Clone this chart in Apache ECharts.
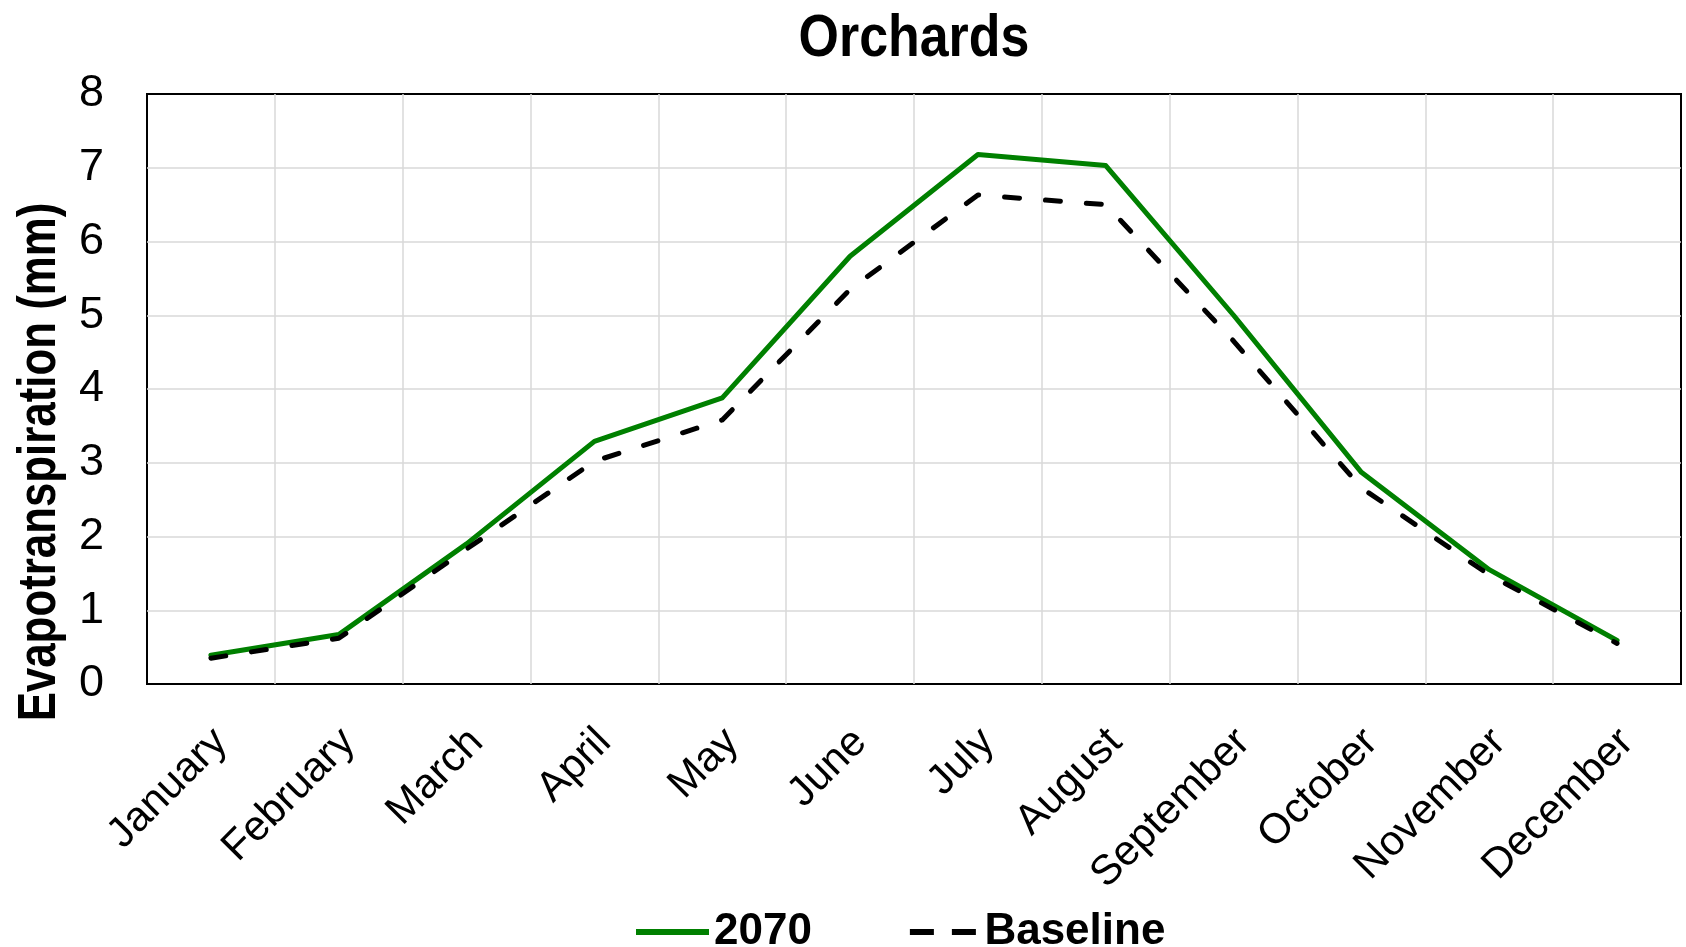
<!DOCTYPE html>
<html>
<head>
<meta charset="utf-8">
<title>Orchards</title>
<script src="https://cdn.jsdelivr.net/npm/echarts@6/dist/echarts.min.js"></script>
<style>
  html, body { margin: 0; padding: 0; background: #fff; }
  #chart { width: 1686px; height: 947px; }
</style>
</head>
<body>
<div id="chart"></div>
<script>
// Monthly evapotranspiration for orchards (mm)
const months = ['January', 'February', 'March', 'April', 'May', 'June',
                'July', 'August', 'September', 'October', 'November', 'December'];
const et2070 = [0.39, 0.67, 1.90, 3.29, 3.88, 5.80, 7.18, 7.03, 5.00, 2.87, 1.55, 0.59];
const etBaseline = [0.35, 0.62, 1.83, 3.02, 3.58, 5.35, 6.63, 6.50, 4.65, 2.66, 1.48, 0.55];
const yTicks = [0, 1, 2, 3, 4, 5, 6, 7, 8];

const FONT = "'Liberation Sans', Arial, sans-serif";

const chart = echarts.init(document.getElementById('chart'), null, { renderer: 'canvas' });

chart.setOption({
  backgroundColor: '#ffffff',
  animation: false,
  graphic: [
    {
      // chart title, slightly condensed
      type: 'text',
      x: 914,
      y: 39,
      scaleX: 0.865,
      style: {
        text: 'Orchards',
        fontFamily: FONT,
        fontSize: 60,
        fontWeight: 'bold',
        fill: '#000',
        align: 'center',
        verticalAlign: 'middle'
      }
    },
    {
      // vertical axis title
      type: 'text',
      x: 40,
      y: 462,
      rotation: Math.PI / 2,
      scaleX: 0.827,
      style: {
        text: 'Evapotranspiration (mm)',
        fontFamily: FONT,
        fontSize: 53,
        fontWeight: 'bold',
        fill: '#000',
        align: 'center',
        verticalAlign: 'middle'
      }
    }
  ],
  legend: {
    left: 631,
    top: 905,
    itemGap: 98,
    itemWidth: 73,
    itemHeight: 6,
    textStyle: { fontFamily: FONT, fontSize: 44, fontWeight: 'bold', color: '#000', lineHeight: 44 },
    data: [
      { name: '2070', icon: 'path://M0,0H73V6H0Z', itemStyle: { color: '#008000' } },
      { name: 'Baseline', icon: 'path://M4,0H28V6H4Z M46,0H70V6H46Z', itemStyle: { color: '#000' } }
    ]
  },
  grid: {
    left: 147,
    right: 5,
    top: 94,
    bottom: 263,
    show: true,
    borderColor: '#000',
    borderWidth: 2,
    backgroundColor: 'transparent'
  },
  xAxis: {
    type: 'category',
    data: months,
    boundaryGap: true,
    axisLine: { show: false },
    axisTick: { show: false },
    splitLine: {
      show: true,
      showMinLine: false,
      showMaxLine: false,
      lineStyle: { color: '#d9d9d9', width: 1.5 }
    },
    axisLabel: {
      interval: 0,
      rotate: 45,
      margin: 32,
      verticalAlign: 'top',
      padding: [0, 7, 0, 0],
      fontFamily: FONT,
      fontSize: 42,
      color: '#000'
    }
  },
  yAxis: {
    type: 'value',
    min: yTicks[0],
    max: yTicks[yTicks.length - 1],
    interval: 1,
    axisLine: { show: false },
    axisTick: { show: false },
    splitLine: {
      show: true,
      showMinLine: false,
      showMaxLine: false,
      lineStyle: { color: '#d9d9d9', width: 1.5 }
    },
    axisLabel: {
      margin: 43,
      fontFamily: FONT,
      fontSize: 45,
      color: '#000'
    }
  },
  series: [
    {
      name: '2070',
      type: 'line',
      data: et2070,
      symbol: 'none',
      smooth: false,
      lineStyle: { color: '#008000', width: 5, cap: 'round', join: 'round' },
      itemStyle: { color: '#008000' },
      z: 3
    },
    {
      name: 'Baseline',
      type: 'line',
      data: etBaseline,
      symbol: 'none',
      smooth: false,
      lineStyle: { color: '#000', width: 5, type: [15, 26], cap: 'round', join: 'round' },
      itemStyle: { color: '#000' },
      z: 4
    }
  ]
});
</script>
</body>
</html>
